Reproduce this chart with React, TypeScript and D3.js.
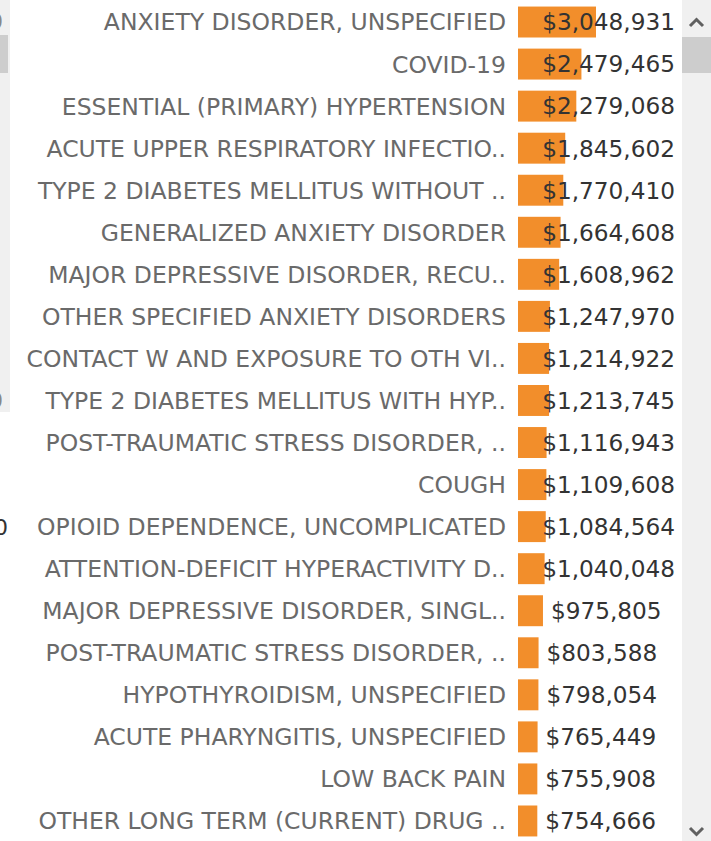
import { useEffect, useRef } from 'react'
import * as d3 from 'd3'

const diagnoses = [
  'ANXIETY DISORDER, UNSPECIFIED',
  'COVID-19',
  'ESSENTIAL (PRIMARY) HYPERTENSION',
  'ACUTE UPPER RESPIRATORY INFECTIO..',
  'TYPE 2 DIABETES MELLITUS WITHOUT ..',
  'GENERALIZED ANXIETY DISORDER',
  'MAJOR DEPRESSIVE DISORDER, RECU..',
  'OTHER SPECIFIED ANXIETY DISORDERS',
  'CONTACT W AND EXPOSURE TO OTH VI..',
  'TYPE 2 DIABETES MELLITUS WITH HYP..',
  'POST-TRAUMATIC STRESS DISORDER, ..',
  'COUGH',
  'OPIOID DEPENDENCE, UNCOMPLICATED',
  'ATTENTION-DEFICIT HYPERACTIVITY D..',
  'MAJOR DEPRESSIVE DISORDER, SINGL..',
  'POST-TRAUMATIC STRESS DISORDER, ..',
  'HYPOTHYROIDISM, UNSPECIFIED',
  'ACUTE PHARYNGITIS, UNSPECIFIED',
  'LOW BACK PAIN',
  'OTHER LONG TERM (CURRENT) DRUG ..',
]

const paid = [
  3048931, 2479465, 2279068, 1845602, 1770410, 1664608, 1608962, 1247970, 1214922, 1213745,
  1116943, 1109608, 1084564, 1040048, 975805, 803588, 798054, 765449, 755908, 754666,
]

const W = 711
const H = 841
const BAR_X = 518
const BAR_MAX = 78
const PANE_RIGHT = 675

export default function App() {
  const svgRef = useRef<SVGSVGElement>(null)

  useEffect(() => {
    if (!svgRef.current) return
    const svg = d3.select(svgRef.current)
    svg.selectAll('*').remove()

    const rows = diagnoses.map((name, i) => ({ key: i, name, value: paid[i] }))

    const y = d3.scaleBand<number>()
      .domain(rows.map(d => d.key))
      .range([1, H + 1])
      .paddingInner(0.264)
      .paddingOuter(0.132)

    const x = d3.scaleLinear()
      .domain([0, d3.max(paid) as number])
      .range([0, BAR_MAX])

    svg.append('rect').attr('width', W).attr('height', H).attr('fill', '#fff')

    // bits of the neighbouring sheet on the left
    svg.append('rect').attr('x', 0).attr('y', 0).attr('width', 10).attr('height', 412).attr('fill', '#f0f0f0')
    svg.append('rect').attr('x', 0).attr('y', 35).attr('width', 8).attr('height', 38).attr('fill', '#cdcdcd')
    svg.append('text').attr('x', 3).attr('y', 29).attr('text-anchor', 'end')
      .attr('font-family', 'DejaVu Sans').attr('font-size', 22).attr('fill', '#888').text('0')
    svg.append('text').attr('x', 3).attr('y', 408).attr('text-anchor', 'end')
      .attr('font-family', 'DejaVu Sans').attr('font-size', 22).attr('fill', '#888').text('0')
    svg.append('text').attr('x', 8).attr('y', 535).attr('text-anchor', 'end')
      .attr('font-family', 'DejaVu Sans').attr('font-size', 22).attr('fill', '#333').text('0')

    const g = svg.append('g')

    const row = g.selectAll('g.row')
      .data(rows)
      .join('g')
      .attr('class', 'row')
      .attr('transform', d => `translate(0,${y(d.key)})`)

    row.append('rect')
      .attr('x', BAR_X)
      .attr('y', 0)
      .attr('width', d => x(d.value))
      .attr('height', y.bandwidth())
      .attr('fill', '#f28e2b')

    row.append('text')
      .attr('x', 506)
      .attr('y', y.bandwidth() / 2)
      .attr('dy', '0.36em')
      .attr('text-anchor', 'end')
      .attr('font-family', 'DejaVu Sans')
      .attr('font-size', 23.5)
      .attr('fill', '#6a6a6a')
      .text(d => d.name)

    const fmt = d3.format('$,')
    row.append('text')
      .attr('y', y.bandwidth() / 2)
      .attr('dy', '0.36em')
      .attr('font-family', 'DejaVu Sans')
      .attr('font-size', 23.2)
      .attr('fill', '#333')
      .text(d => fmt(d.value))
      .attr('x', function (d) {
        const w = (this as SVGTextElement).getComputedTextLength()
        return Math.min(BAR_X + x(d.value) + 8, PANE_RIGHT - w)
      })

    // scrollbar on the right
    const sb = svg.append('g')
    sb.append('rect').attr('x', 682).attr('y', 0).attr('width', W - 682).attr('height', H).attr('fill', '#f0f0f0')
    sb.append('rect').attr('x', 682).attr('y', 37).attr('width', W - 682).attr('height', 36).attr('fill', '#cdcdcd')
    sb.append('path').attr('d', 'M690,26 L696.5,19.5 L703,26')
      .attr('fill', 'none').attr('stroke', '#606060').attr('stroke-width', 3)
    sb.append('path').attr('d', 'M690,828 L696.5,834.5 L703,828')
      .attr('fill', 'none').attr('stroke', '#606060').attr('stroke-width', 3)
  }, [])

  return (
    <div style={{ position: 'absolute', left: 0, top: 0 }}>
      <svg ref={svgRef} width={W} height={H} style={{ display: 'block' }} />
    </div>
  )
}
